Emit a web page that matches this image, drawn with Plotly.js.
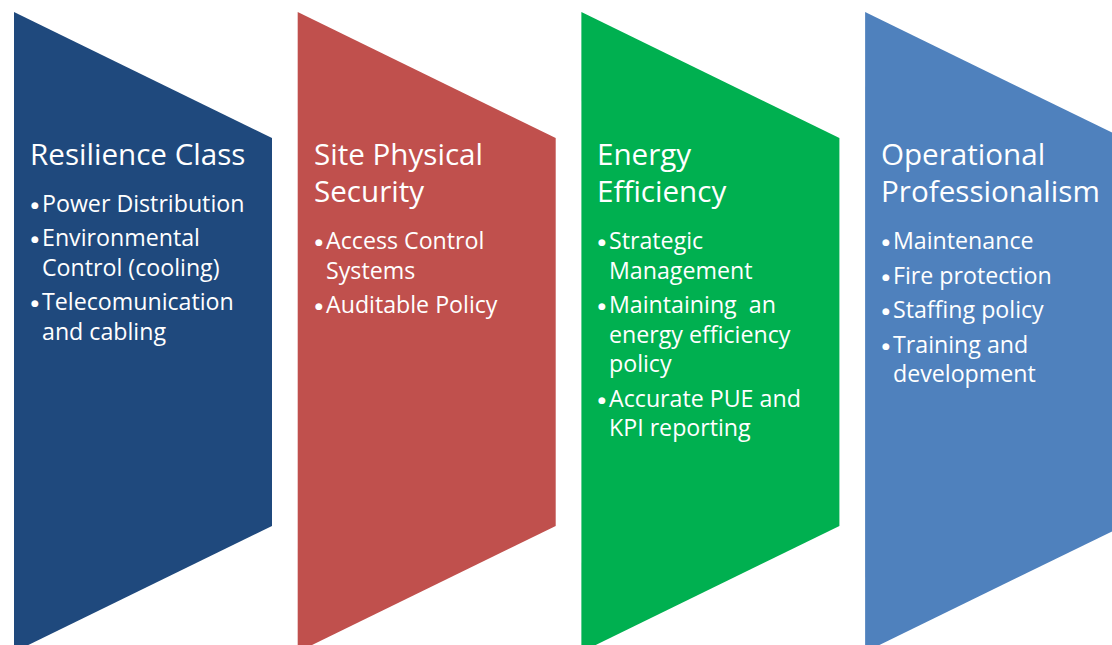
<!DOCTYPE html>
<html>
<head>
<meta charset="utf-8">
<script src="https://cdn.plot.ly/plotly-3.0.1.min.js"></script>
<style>
  html, body { margin: 0; padding: 0; background: #ffffff; }
  #chart { width: 1112px; height: 645px; }
</style>
</head>
<body>
<div id="chart"></div>
<script>
// ---- data ----
const titles = [
  ["Resilience Class"],
  ["Site Physical", "Security"],
  ["Energy", "Efficiency"],
  ["Operational", "Professionalism"]
];
const bullets = [
  [["Power Distribution"], ["Environmental", "Control (cooling)"], ["Telecomunication", "and cabling"]],
  [["Access Control", "Systems"], ["Auditable Policy"]],
  [["Strategic", "Management"], ["Maintaining\u00A0 an", "energy efficiency", "policy"], ["Accurate PUE and", "KPI reporting"]],
  [["Maintenance"], ["Fire protection"], ["Staffing policy"], ["Training and", "development"]]
];
const colors = ["#1F497D", "#C0504D", "#00B050", "#4F81BD"];

// ---- geometry (layout) ----
const W = 1112, H = 645;
const X0 = 14, STEP = 283.7, PW = 258;
const TOP = 12, SLANT = 126, BOT = 652;
const FONT = "'Open Sans', 'Noto Sans', sans-serif";

const traces = [];
const annotations = [];

titles.forEach((t, i) => {
  const l = X0 + i * STEP, r = l + PW;
  traces.push({
    type: "scatter", mode: "lines",
    x: [l, r, r, l, l],
    y: [TOP, TOP + SLANT, BOT - SLANT, BOT, TOP],
    fill: "toself", fillcolor: colors[i],
    line: { width: 0, color: colors[i] },
    hoverinfo: "skip", showlegend: false
  });
  let y = 153;
  t.forEach((line, k) => {
    if (k > 0) y += 37.5;
    annotations.push({
      x: l + 14, y: y, xref: "x", yref: "y", xanchor: "left", yanchor: "middle",
      text: line, showarrow: false,
      font: { family: FONT, size: 29.6, color: "#ffffff" }
    });
  });
  y += 49.5;
  bullets[i].forEach((item, j) => {
    if (j > 0) y += 34.5;
    annotations.push({
      x: l + 15, y: y + 2, xref: "x", yref: "y", xanchor: "left", yanchor: "middle",
      text: "●", showarrow: false,
      font: { family: "'DejaVu Sans', sans-serif", size: 9, color: "#ffffff" }
    });
    item.forEach((line, k) => {
      if (k > 0) y += 29.5;
      annotations.push({
        x: l + 26, y: y, xref: "x", yref: "y", xanchor: "left", yanchor: "middle",
        text: line, showarrow: false,
        font: { family: FONT, size: 23.2, color: "#ffffff" }
      });
    });
  });
});

const layout = {
  width: W, height: H,
  margin: { l: 0, r: 0, t: 0, b: 0, pad: 0 },
  paper_bgcolor: "#ffffff", plot_bgcolor: "#ffffff",
  xaxis: { range: [0, W], visible: false, fixedrange: true },
  yaxis: { range: [H, 0], visible: false, fixedrange: true },
  annotations: annotations,
  showlegend: false
};

Plotly.newPlot("chart", traces, layout, { staticPlot: true, displayModeBar: false });
</script>
</body>
</html>
